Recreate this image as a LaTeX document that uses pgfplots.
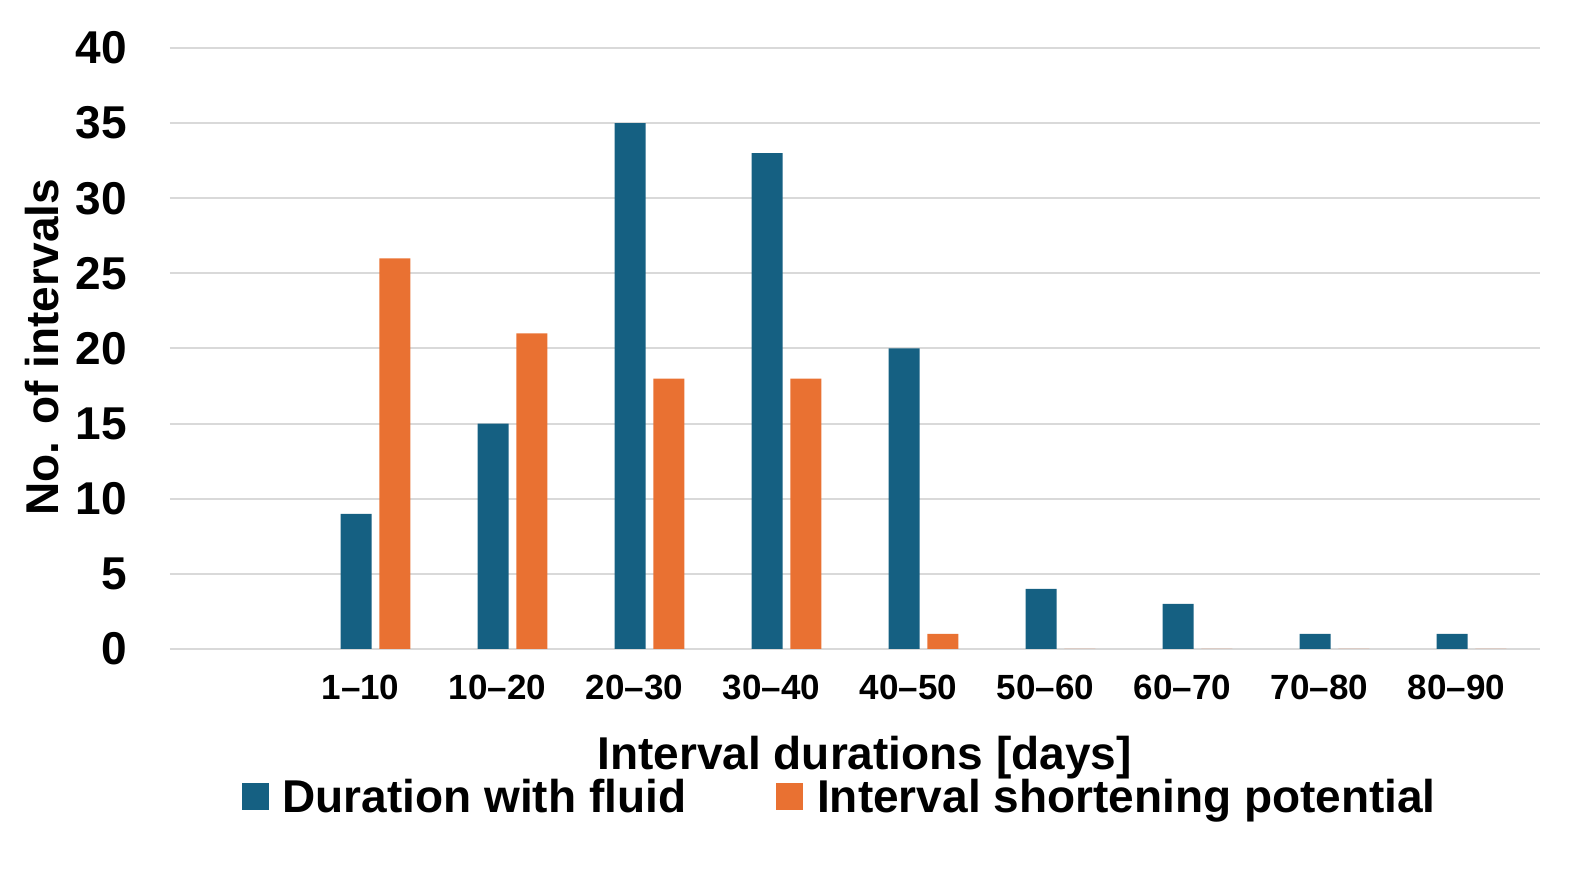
\documentclass[border=0pt]{standalone}
\usepackage{fontspec}
\setmainfont{Liberation Sans}
\usepackage{pgfplots}
\pgfplotsset{compat=1.18}
\definecolor{cblue}{HTML}{156082}
\definecolor{corange}{HTML}{E97132}
\definecolor{cgrid}{HTML}{D9D9D9}
\begin{document}
\begin{tikzpicture}
\begin{axis}[
  at={(85pt,111pt)}, anchor=south west,
  scale only axis, width=685pt, height=300.5pt,
  xmin=-0.5, xmax=9.5, ymin=0, ymax=40,
  enlargelimits=false,
  ybar, bar width=0.226,
  ytick={0,5,...,40},
  xtick={1,...,9},
  xticklabels={1–10,10–20,20–30,30–40,40–50,50–60,60–70,70–80,80–90},
  axis line style={draw=none},
  major tick length=0,
  ymajorgrids, grid style={cgrid, line width=1pt},
  /pgf/number format/assume math mode=true,
  yticklabel style={font=\fontsize{23}{27}\selectfont\bfseries, anchor=east, xshift=-18pt},
  xticklabel style={font=\fontsize{17.5}{21}\selectfont\bfseries, anchor=north, yshift=-9.5pt, xshift=-7.5pt},
  xlabel={Interval durations [days]},
  ylabel={No. of intervals},
  label style={font=\fontsize{23}{27}\selectfont\bfseries},
  xlabel style={at={(axis description cs:0.507,-0.181)}, anchor=center},
  ylabel style={at={(axis description cs:-0.0934,0.502)}, anchor=center, rotate=0},
  legend columns=2,
  legend style={draw=none, fill=none, at={(axis description cs:0.4895,-0.246)}, anchor=center,
    font=\fontsize{23}{27}\selectfont\bfseries,
    /tikz/every odd column/.append style={column sep=5pt},
    /tikz/every even column/.append style={column sep=43pt}},
  legend image code/.code={\fill[#1] (0pt,-6.75pt) rectangle (13.5pt,6.75pt);},
]
\addplot[fill=cblue, draw=none, bar shift=-0.142] coordinates {(1,9) (2,15) (3,35) (4,33) (5,20) (6,4) (7,3) (8,1) (9,1)};
\addplot[fill=corange, draw=none, bar shift=0.142] coordinates {(1,26) (2,21) (3,18) (4,18) (5,1) (6,0) (7,0) (8,0) (9,0)};
\legend{Duration with fluid, Interval shortening potential}
\end{axis}
\pgfresetboundingbox
\path[use as bounding box] (0pt,0pt) rectangle (790.5pt,435.5pt);
\end{tikzpicture}
\end{document}
